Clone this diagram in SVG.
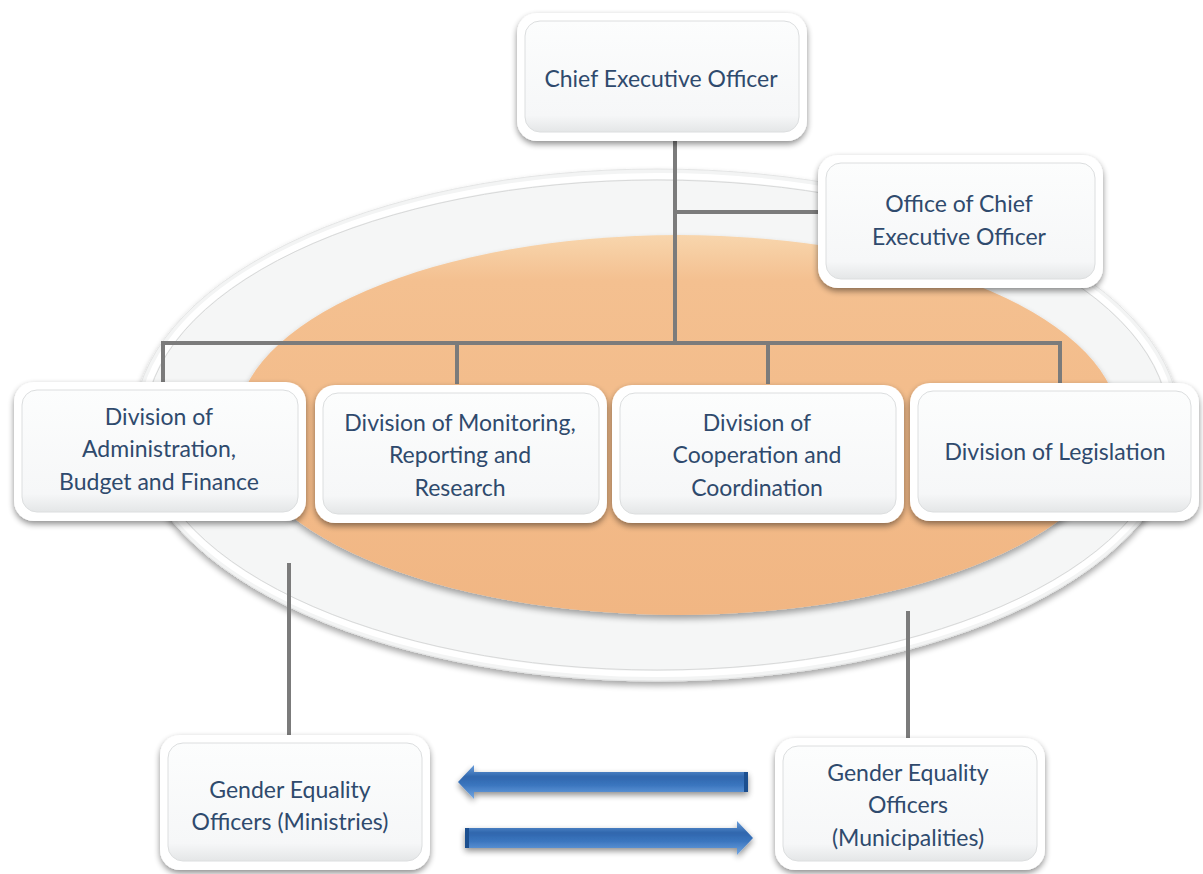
<svg xmlns="http://www.w3.org/2000/svg" width="1203" height="874" viewBox="0 0 1203 874">
<defs>
  <filter id="sh" x="-10%" y="-10%" width="120%" height="130%">
    <feGaussianBlur in="SourceAlpha" stdDeviation="3"/>
    <feOffset dx="0" dy="3" result="b"/>
    <feComponentTransfer><feFuncA type="linear" slope="0.45"/></feComponentTransfer>
    <feMerge><feMergeNode/><feMergeNode in="SourceGraphic"/></feMerge>
  </filter>
  <filter id="esh" x="-5%" y="-5%" width="110%" height="115%">
    <feGaussianBlur in="SourceAlpha" stdDeviation="3"/>
    <feOffset dx="0" dy="4"/>
    <feComponentTransfer><feFuncA type="linear" slope="0.35"/></feComponentTransfer>
    <feMerge><feMergeNode/><feMergeNode in="SourceGraphic"/></feMerge>
  </filter>
  <linearGradient id="boxg" x1="0" y1="0" x2="0" y2="1">
    <stop offset="0" stop-color="#fcfdfd"/>
    <stop offset="0.85" stop-color="#f6f7f8"/>
    <stop offset="1" stop-color="#e4e6e7"/>
  </linearGradient>
  <linearGradient id="orng" x1="0" y1="0" x2="0" y2="1">
    <stop offset="0" stop-color="#f8d6ad"/>
    <stop offset="0.12" stop-color="#f4c090"/>
    <stop offset="1" stop-color="#f1b683"/>
  </linearGradient>
  <linearGradient id="arr" x1="0" y1="0" x2="0" y2="1">
    <stop offset="0" stop-color="#6a9edb"/>
    <stop offset="0.35" stop-color="#2f66ad"/>
    <stop offset="0.6" stop-color="#3b76bf"/>
    <stop offset="1" stop-color="#74a8e3"/>
  </linearGradient>
  <style>
    .outer{fill:#ffffff;filter:url(#sh)}
    .inner{fill:url(#boxg);stroke:#dcdedf;stroke-width:1}
    .t{font-family:Lato,"Open Sans","Liberation Sans",sans-serif;font-size:23px;fill:#2f4a6d;text-anchor:middle}
    .c{stroke:#7b7b7b;stroke-width:4;fill:none}
  </style>
</defs>
<rect width="1203" height="874" fill="#ffffff"/>

<g id="background">
  <ellipse cx="657" cy="425" rx="523" ry="256" fill="#f3f4f4" filter="url(#esh)" stroke="#e4e5e5" stroke-width="1"/>
  <ellipse cx="657" cy="425" rx="516" ry="249" fill="none" stroke="#ffffff" stroke-width="6"/>
  <ellipse cx="657" cy="425" rx="512" ry="245" fill="#f5f6f6" stroke="#d8d9d9" stroke-width="1"/>
  <ellipse cx="678" cy="425" rx="441" ry="190" fill="url(#orng)" filter="url(#esh)"/>
</g>

<g id="connectors">
  <path class="c" d="M675 140 V343"/>
  <path class="c" d="M675 212 H820"/>
  <path class="c" d="M163 343 H1060"/>
  <path class="c" d="M163 341 V384"/>
  <path class="c" d="M457 341 V384"/>
  <path class="c" d="M768 341 V384"/>
  <path class="c" d="M1060 341 V384"/>
  <path class="c" d="M289 563 V740"/>
  <path class="c" d="M908 611 V740"/>
</g>

<g id="ceo">
  <rect class="outer" x="517" y="13" width="290" height="128" rx="20"/>
  <rect class="inner" x="525" y="21" width="274" height="111" rx="15"/>
  <text class="t" x="661" y="87">Chief Executive  Officer</text>
</g>

<g id="office">
  <rect class="outer" x="818" y="155" width="285" height="133" rx="20"/>
  <rect class="inner" x="826" y="163" width="269" height="116" rx="15"/>
  <text class="t" x="959" y="212">Office of Chief</text>
  <text class="t" x="959" y="245">Executive  Officer</text>
</g>

<g id="div-admin">
  <rect class="outer" x="14" y="382" width="292" height="139" rx="20"/>
  <rect class="inner" x="22" y="390" width="276" height="122" rx="15"/>
  <text class="t" x="159" y="425">Division of</text>
  <text class="t" x="159" y="457">Administration,</text>
  <text class="t" x="159" y="490">Budget and Finance</text>
</g>

<g id="div-monitoring">
  <rect class="outer" x="315" y="385" width="292" height="138" rx="20"/>
  <rect class="inner" x="323" y="393" width="276" height="121" rx="15"/>
  <text class="t" x="460" y="431">Division of Monitoring,</text>
  <text class="t" x="460" y="463">Reporting and</text>
  <text class="t" x="460" y="496">Research</text>
</g>

<g id="div-cooperation">
  <rect class="outer" x="612" y="385" width="292" height="138" rx="20"/>
  <rect class="inner" x="620" y="393" width="276" height="121" rx="15"/>
  <text class="t" x="757" y="431">Division of</text>
  <text class="t" x="757" y="463">Cooperation and</text>
  <text class="t" x="757" y="496">Coordination</text>
</g>

<g id="div-legislation">
  <rect class="outer" x="910" y="383" width="289" height="138" rx="20"/>
  <rect class="inner" x="918" y="391" width="273" height="121" rx="15"/>
  <text class="t" x="1055" y="460">Division of Legislation</text>
</g>

<g id="geo-ministries">
  <rect class="outer" x="160" y="735" width="270" height="135" rx="20"/>
  <rect class="inner" x="168" y="743" width="254" height="118" rx="15"/>
  <text class="t" x="290" y="798">Gender Equality</text>
  <text class="t" x="290" y="830">Officers (Ministries)</text>
</g>

<g id="geo-municipalities">
  <rect class="outer" x="775" y="738" width="270" height="132" rx="20"/>
  <rect class="inner" x="783" y="746" width="254" height="115" rx="15"/>
  <text class="t" x="908" y="781">Gender Equality</text>
  <text class="t" x="908" y="813">Officers</text>
  <text class="t" x="908" y="846">(Municipalities)</text>
</g>

<g id="arrows" filter="url(#sh)">
  <path d="M458 782 L474 765 L474 772 L748 772 L748 792 L474 792 L474 799 Z" fill="url(#arr)"/>
  <rect x="744" y="772" width="4" height="20" fill="#1f4f8f"/>
  <path d="M753 838 L737 821 L737 828 L465 828 L465 848 L737 848 L737 855 Z" fill="url(#arr)"/>
  <rect x="465" y="828" width="4" height="20" fill="#1f4f8f"/>
</g>
</svg>
